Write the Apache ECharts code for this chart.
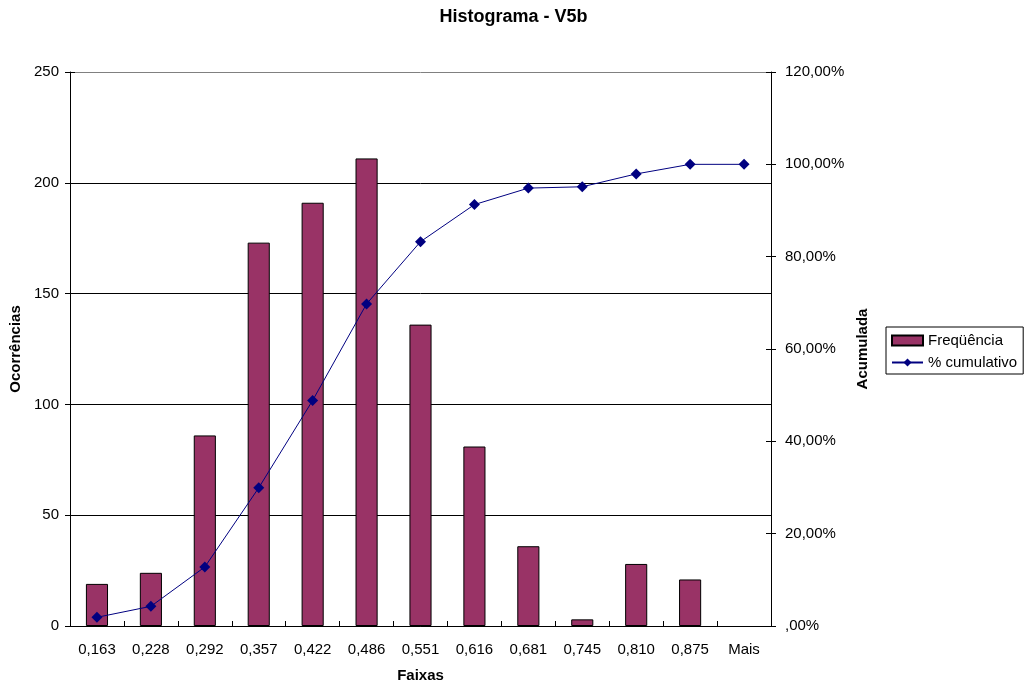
<!DOCTYPE html>
<html lang="pt-BR">
<head>
  <meta charset="UTF-8">
  <title>Histograma - V5b</title>
  <script src="https://cdn.jsdelivr.net/npm/echarts@6/dist/echarts.min.js"></script>
  <style>
    * { margin: 0; padding: 0; }
    html, body { width: 100%; height: 100%; overflow: hidden; background: #fff; }
    #chart { width: 100vw; height: 100vh; }
  </style>
</head>
<body>
  <div id="chart"></div>
  <script>
    // faixas (bins) e valores
    const faixas = ['0,163', '0,228', '0,292', '0,357', '0,422', '0,486', '0,551', '0,616', '0,681', '0,745', '0,810', '0,875', 'Mais'];
    const frequencia = [19, 24, 86, 173, 191, 211, 136, 81, 36, 3, 28, 21, 0];
    const cumulativo = [1.88, 4.26, 12.78, 29.93, 48.86, 69.77, 83.25, 91.28, 94.85, 95.14, 97.92, 100, 100];

    const fonte = 'Arial, "Liberation Sans", sans-serif';
    const chart = echarts.init(document.getElementById('chart'));

    const pct = v => v === 0 ? ',00%' : v.toFixed(2).replace('.', ',') + '%';
    const nomeEixo = { fontFamily: fonte, fontSize: 15, fontWeight: 'bold', color: '#000' };
    const rotulo = { fontFamily: fonte, fontSize: 15, color: '#000' };

    // eixos duplicados só para desenhar a metade interna dos ticks (ticks cruzados do Excel)
    const tickDentro = { show: true, inside: true, length: 5, lineStyle: { color: '#000' } };

    chart.setOption({
      animation: false,
      textStyle: { fontFamily: fonte },
      title: {
        text: 'Histograma - V5b',
        left: 'center',
        top: 3,
        textStyle: { fontFamily: fonte, fontSize: 18, fontWeight: 'bold', color: '#000' }
      },
      legend: {
        orient: 'vertical',
        left: 886,
        top: 327,
        padding: [6, 6, 4, 5],
        itemGap: 7,
        itemWidth: 31,
        itemHeight: 10,
        borderColor: '#000',
        borderWidth: 1,
        textStyle: { fontFamily: fonte, fontSize: 15, color: '#000' },
        data: [{ name: 'Freqüência', icon: 'rect' }, '% cumulativo']
      },
      grid: { left: 70, right: 256, top: 72, bottom: 60 },
      xAxis: [
        {
          type: 'category',
          data: faixas,
          name: 'Faixas',
          nameLocation: 'middle',
          nameGap: 42,
          nameTextStyle: nomeEixo,
          axisLine: { lineStyle: { color: '#000' } },
          axisTick: { length: 5, lineStyle: { color: '#000' } },
          axisLabel: Object.assign({ margin: 16 }, rotulo)
        },
        {
          type: 'category',
          data: faixas,
          position: 'bottom',
          axisLine: { show: false },
          axisTick: tickDentro,
          axisLabel: { show: false }
        }
      ],
      yAxis: [
        {
          type: 'value',
          min: 0,
          max: 250,
          interval: 50,
          name: 'Ocorrências',
          nameLocation: 'middle',
          nameGap: 47,
          nameRotate: 90,
          nameTextStyle: nomeEixo,
          axisLine: { show: true, lineStyle: { color: '#000' } },
          axisTick: { show: true, length: 5, lineStyle: { color: '#000' } },
          axisLabel: Object.assign({ margin: 11 }, rotulo),
          splitLine: { lineStyle: { color: ['#000', '#000', '#000', '#000', '#000', '#808080'], width: 1 } }
        },
        {
          type: 'value',
          min: 0,
          max: 120,
          interval: 20,
          position: 'right',
          name: 'Acumulada',
          nameLocation: 'middle',
          nameGap: 82,
          nameRotate: 90,
          nameTextStyle: nomeEixo,
          axisLine: { show: true, lineStyle: { color: '#000' } },
          axisTick: { show: true, length: 5, lineStyle: { color: '#000' } },
          axisLabel: Object.assign({ margin: 14, formatter: pct }, rotulo),
          splitLine: { show: false }
        },
        {
          type: 'value',
          min: 0,
          max: 250,
          interval: 50,
          position: 'left',
          axisLine: { show: false },
          axisTick: tickDentro,
          axisLabel: { show: false },
          splitLine: { show: false }
        },
        {
          type: 'value',
          min: 0,
          max: 120,
          interval: 20,
          position: 'right',
          axisLine: { show: false },
          axisTick: tickDentro,
          axisLabel: { show: false },
          splitLine: { show: false }
        }
      ],
      series: [
        {
          name: 'Freqüência',
          type: 'bar',
          data: frequencia.map(v => v === 0 ? null : v),
          barWidth: '41%',
          itemStyle: { color: '#993366', borderColor: '#000', borderWidth: 1 }
        },
        {
          name: '% cumulativo',
          type: 'line',
          yAxisIndex: 1,
          data: cumulativo,
          symbol: 'diamond',
          symbolSize: 11,
          lineStyle: { color: '#000080', width: 1 },
          itemStyle: { color: '#000080' }
        }
      ]
    });
  </script>
</body>
</html>
